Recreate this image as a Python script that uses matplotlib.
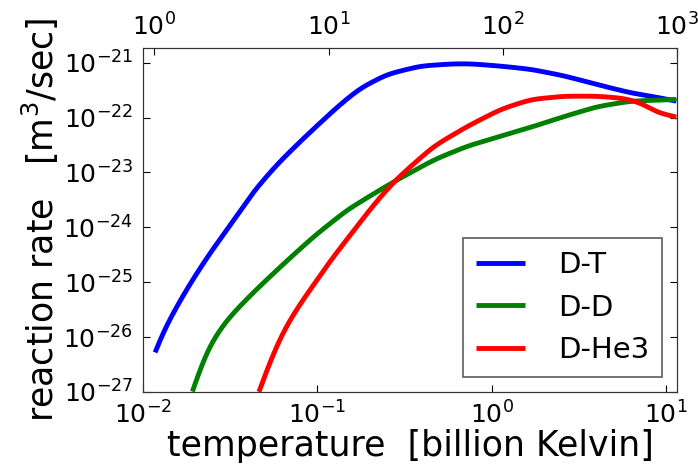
import matplotlib
matplotlib.use('Agg')
import matplotlib.pyplot as plt
import numpy as np

# temperature in billion Kelvin (log10), reaction rate in m^3/sec (log10)
dt_logT = [-1.931, -1.908, -1.861, -1.803, -1.725, -1.612, -1.517, -1.364, -1.230, -1.096,
           -0.975, -0.865, -0.751, -0.598, -0.407, -0.216, -0.120, 0.045, 0.225, 0.417,
           0.607, 0.798, 0.932, 1.060]
dt_logR = [-26.30, -26.05, -25.76, -25.42, -25.00, -24.45, -24.04, -23.34, -22.85, -22.43,
           -22.07, -21.75, -21.46, -21.21, -21.06, -21.02, -21.02, -21.06, -21.12, -21.24,
           -21.40, -21.55, -21.62, -21.70]

dd_logT = [-1.717, -1.669, -1.612, -1.517, -1.421, -1.362, -1.209, -1.018, -0.827, -0.693,
           -0.589, -0.521, -0.331, -0.139, 0.052, 0.242, 0.417, 0.607, 0.798, 1.060]
dd_logR = [-27.0, -26.53, -26.11, -25.68, -25.36, -25.17, -24.71, -24.16, -23.68, -23.42,
           -23.22, -23.10, -22.77, -22.52, -22.34, -22.16, -21.98, -21.80, -21.70, -21.67]

dhe_logT = [-1.335, -1.268, -1.192, -1.096, -1.037, -0.923, -0.789, -0.674, -0.575, -0.521,
            -0.331, -0.139, 0.052, 0.225, 0.417, 0.607, 0.760, 0.856, 0.951, 1.060]
dhe_logR = [-27.0, -26.41, -25.87, -25.38, -25.12, -24.60, -24.05, -23.58, -23.22, -23.05,
            -22.52, -22.16, -21.85, -21.67, -21.61, -21.61, -21.65, -21.73, -21.91, -21.99]

labels = ['D-T', 'D-D', 'D-He3']
colors = ['#0000ff', '#008000', '#ff0000']

GK_PER_KEV = 0.0116  # billion Kelvin per keV


def smooth(lx, ly, n=600, sigma=0.04):
    # resample the read points in log-log space, then a light gaussian blur to hide reading noise
    lx = np.asarray(lx)
    ly = np.asarray(ly)
    xs = np.linspace(lx[0], lx[-1], n)
    ys = np.interp(xs, lx, ly)
    step = xs[1] - xs[0]
    k = int(4 * sigma / step)
    # pad with straight-line extension so the ends stay put
    s0 = (ys[k // 2] - ys[0]) / ((k // 2) * step)
    s1 = (ys[-1] - ys[-1 - k // 2]) / ((k // 2) * step)
    left = ys[0] - s0 * step * np.arange(k, 0, -1)
    right = ys[-1] + s1 * step * np.arange(1, k + 1)
    padded = np.concatenate([left, ys, right])
    kern = np.exp(-0.5 * (np.arange(-k, k + 1) * step / sigma) ** 2)
    kern /= kern.sum()
    ys = np.convolve(padded, kern, mode='valid')
    return 10**xs, 10**ys


fig = plt.figure(figsize=(6.98, 4.74), dpi=100)
ax = fig.add_axes([0.205, 0.173, 0.765, 0.726])

for lx, ly, lab, c in zip([dt_logT, dd_logT, dhe_logT], [dt_logR, dd_logR, dhe_logR], labels, colors):
    x, y = smooth(lx, ly)
    ax.plot(x, y, color=c, lw=3.5, label=lab, solid_capstyle='butt')

ax.set_xscale('log')
ax.set_yscale('log')
ax.set_xlim(0.01, 1000 * GK_PER_KEV)
ax.set_ylim(1e-27, 10**-20.73)
ax.minorticks_off()
ax.tick_params(direction='in', length=5, labelsize=18, top=False, right=True, pad=7)
ax.set_xlabel('temperature  [billion Kelvin]', fontsize=25, labelpad=0)
ax.set_ylabel('reaction rate   [m$^3$/sec]', fontsize=25, labelpad=2)

ax2 = ax.twiny()
ax2.set_xscale('log')
ax2.set_xlim(ax.get_xlim()[0] / GK_PER_KEV, ax.get_xlim()[1] / GK_PER_KEV)
ax2.minorticks_off()
ax2.tick_params(direction='in', length=5, labelsize=18, pad=5)

for a in (ax, ax2):
    for s in a.spines.values():
        s.set_color('#333333')

leg = ax.legend(loc='lower right', fontsize=21, handlelength=1.65, borderpad=0.45,
                labelspacing=0.5, handletextpad=1.15, borderaxespad=0.5, fancybox=False)
leg.get_frame().set_edgecolor('#333333')
leg.get_frame().set_linewidth(1.2)

fig.savefig('out.png', dpi=100)
